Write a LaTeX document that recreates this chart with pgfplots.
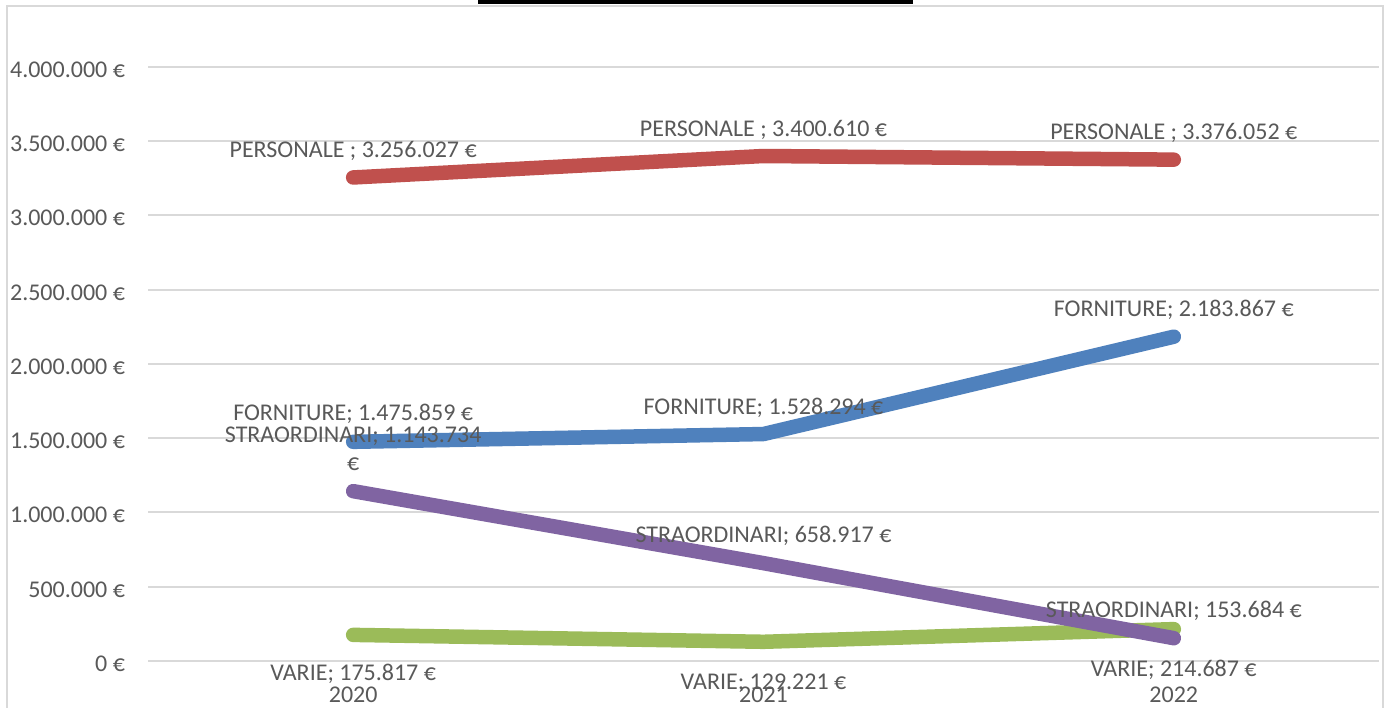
\documentclass[border=0pt]{standalone}
\usepackage{pgfplots}
\pgfplotsset{compat=1.18}
\usepackage{fontspec}
\setmainfont{Carlito}
\definecolor{txt}{HTML}{595959}
\definecolor{gridc}{HTML}{D9D9D9}
\definecolor{cred}{HTML}{C0504D}
\definecolor{cblue}{HTML}{4F81BD}
\definecolor{cgreen}{HTML}{9BBB59}
\definecolor{cpurple}{HTML}{8064A2}
\tikzset{lbl/.style={anchor=base, text=txt, font=\fontsize{24}{28}\selectfont, inner sep=0pt}}
\begin{document}
\begin{tikzpicture}[x=1pt,y=1pt,font=\fontsize{24}{28}\selectfont]
\useasboundingbox (0,0) rectangle (1389,708);
\fill[white] (0,0) rectangle (1389,708);
% frame
\draw[gridc, line width=2pt] (7,0) -- (7,702) -- (1383,702) -- (1383,0);
\fill[black] (478,704) rectangle (913,708);
\begin{axis}[
  at={(148pt,47pt)}, anchor=south west,
  scale only axis, width=1231pt, height=594pt,
  xmin=-0.5, xmax=2.5, ymin=0, ymax=4000000,
  scaled y ticks=false,
  axis line style={draw=none},
  major tick style={draw=none},
  ymajorgrids, grid style={gridc, line width=2pt},
  xtick={0,1,2}, xticklabels={2020,2021,2022},
  ytick={0,500000,1000000,1500000,2000000,2500000,3000000,3500000,4000000},
  yticklabels={0 €,500.000 €,1.000.000 €,1.500.000 €,2.000.000 €,2.500.000 €,3.000.000 €,3.500.000 €,4.000.000 €},
  tick label style={font=\fontsize{24}{28}\selectfont, text=txt},
  xticklabel style={anchor=base, yshift=-41.5pt},
  yticklabel style={anchor=base east, xshift=-19.5pt, yshift=-10.5pt},
  clip=false,
  every axis plot/.append style={line width=14.5pt, line cap=round, line join=round, mark=none},
]
\addplot[cred] coordinates {(0,3256027) (1,3400610) (2,3376052)};
\addplot[cblue] coordinates {(0,1475859) (1,1528294) (2,2183867)};
\addplot[cgreen] coordinates {(0,175817) (1,129221) (2,214687)};
\addplot[cpurple] coordinates {(0,1143734) (1,658917) (2,153684)};
% data labels
\node[lbl, yshift=20pt] at (axis cs:0,3256027) {PERSONALE ; 3.256.027 €};
\node[lbl, yshift=20pt] at (axis cs:1,3400610) {PERSONALE ; 3.400.610 €};
\node[lbl, yshift=20pt] at (axis cs:2,3376052) {PERSONALE ; 3.376.052 €};
\node[lbl, yshift=21pt] at (axis cs:0,1475859) {FORNITURE; 1.475.859 €};
\node[lbl, yshift=19.5pt] at (axis cs:1,1528294) {FORNITURE; 1.528.294 €};
\node[lbl, yshift=20pt] at (axis cs:2,2183867) {FORNITURE; 2.183.867 €};
\node[lbl, yshift=48.5pt] at (axis cs:0,1143734) {STRAORDINARI; 1.143.734};
\node[lbl, yshift=20.5pt] at (axis cs:0,1143734) {€};
\node[lbl, yshift=20.5pt] at (axis cs:1,658917) {STRAORDINARI; 658.917 €};
\node[lbl, yshift=21pt] at (axis cs:2,153684) {STRAORDINARI; 153.684 €};
\node[lbl, yshift=-45.5pt] at (axis cs:0,175817) {VARIE; 175.817 €};
\node[lbl, yshift=-47.5pt] at (axis cs:1,129221) {VARIE; 129.221 €};
\node[lbl, yshift=-47.5pt] at (axis cs:2,214687) {VARIE; 214.687 €};
\end{axis}
\end{tikzpicture}
\end{document}
